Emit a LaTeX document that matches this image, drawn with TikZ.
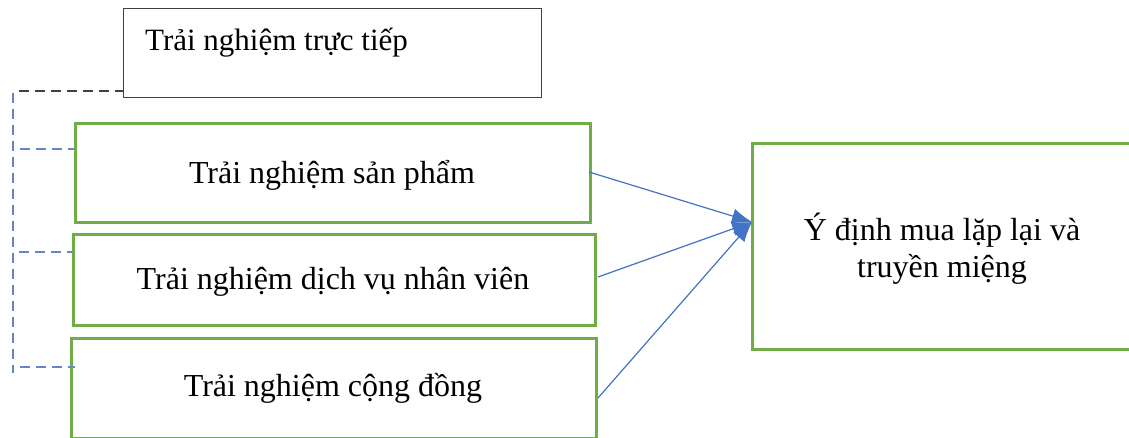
\documentclass[tikz,border=0pt]{standalone}
\usepackage{fontspec}
\setmainfont{Liberation Serif}
\usetikzlibrary{arrows.meta,calc}
\definecolor{boxgreen}{HTML}{70AD47}
\definecolor{linkblue}{HTML}{4472C4}
\definecolor{boxgray}{HTML}{404040}
\begin{document}
\begin{tikzpicture}[x=1pt,y=-1pt,
  greenbox/.style={draw=boxgreen,line width=3pt,inner sep=0pt,anchor=north west},
  graybox/.style={draw=boxgray,line width=1.4pt,inner sep=0pt,anchor=north west},
  lbl/.style={font=\fontsize{32}{38}\selectfont,inner sep=0pt},
  bluedash/.style={draw=linkblue!85,line width=1.4pt,dash pattern=on 10pt off 6pt},
  graydash/.style={draw=boxgray,line width=1.4pt,dash pattern=on 10pt off 6pt},
  link/.style={draw=linkblue,line width=1.2pt,-{Latex[length=20pt,width=15pt]}}]
\useasboundingbox[fill=white] (0,0) rectangle (1129,438);
% boxes
\node[graybox,minimum width=418pt,minimum height=89pt] (top) at (123,8) {};
\node[greenbox,minimum width=515pt,minimum height=99pt] (b1) at (74,122) {};
\node[greenbox,minimum width=522pt,minimum height=91pt] (b2) at (72,233) {};
\node[greenbox,minimum width=525pt,minimum height=100pt] (b3) at (70,337) {};
\node[greenbox,minimum width=390pt,minimum height=206pt] (res) at (751,142) {};
% labels
\node[lbl,anchor=base west,font=\fontsize{31}{37}\selectfont] (ttop) at (145,51) {Trải nghiệm trực tiếp};
\node[lbl] (t1) at (332,175) {Trải nghiệm sản phẩm};
\node[lbl] (t2) at (333,282) {Trải nghiệm dịch vụ nhân viên};
\node[lbl] (t3) at (333,388) {Trải nghiệm cộng đồng};
\node[lbl,anchor=north,align=center,font=\fontsize{32}{37}\selectfont] (tres) at (942,213) {Ý định mua lặp lại và\\truyền miệng};
% dashed bracket
\coordinate (vtop) at (13,93);
\coordinate (vbot) at (13,373);
\coordinate (gstart) at (19,91);
\draw[bluedash] (vtop) -- (vbot);
\draw[graydash] (gstart) -- (gstart -| top.west);
\coordinate (h1) at (20,149);
\coordinate (h2) at (19,252);
\coordinate (h3) at (20,367);
\draw[bluedash] (h1) -- (h1 -| b1.west);
\draw[bluedash] (h2) -- (h2 -| b2.west);
\draw[bluedash] (h3) -- ($(h3 -| b3.west)+(5,0)$);
% arrows
\coordinate (tip) at (752,222);
\coordinate (s1) at (589,172);
\coordinate (s2) at (598,277);
\coordinate (s3) at (598,398);
\draw[link] (s1) -- (tip);
\draw[link] (s2) -- (tip);
\draw[link] (s3) -- (tip);
\end{tikzpicture}
\end{document}
